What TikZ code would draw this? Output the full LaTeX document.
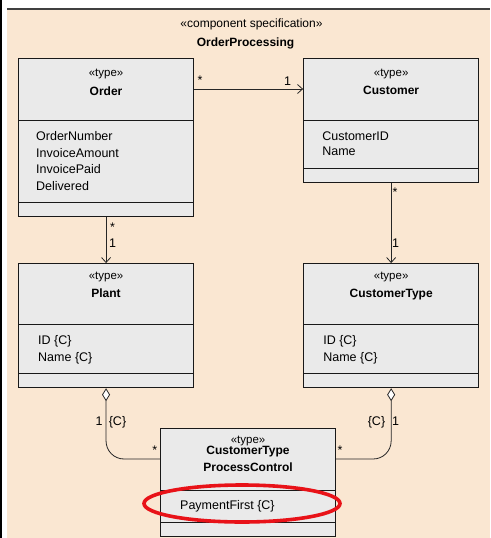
\documentclass[tikz,border=0pt]{standalone}
\usepackage{fontspec}
\setmainfont{Liberation Sans}
\usetikzlibrary{positioning,arrows.meta}
\definecolor{pagebeige}{RGB}{250,231,210}
\definecolor{boxgray}{RGB}{234,234,234}
\definecolor{markred}{RGB}{232,18,24}

\begin{document}
\begin{tikzpicture}[x=1pt,y=-1pt,
  classbox/.style={draw=black!90,fill=boxgray,line width=1.1pt,minimum width=175pt,inner sep=0pt,anchor=north west},
  split/.style={draw=black!90,line width=0.9pt},
  stereo/.style={font=\fontsize{11.5}{13}\selectfont,inner sep=0pt,anchor=base},
  cname/.style={font=\fontsize{12}{14}\selectfont\bfseries,inner sep=0pt,anchor=base},
  attr/.style={font=\fontsize{12.5}{14}\selectfont,inner sep=0pt,anchor=base west},
  mult/.style={font=\fontsize{12.5}{14}\selectfont,inner sep=0pt,anchor=base},
  assoc/.style={draw=black!85,line width=0.8pt},
  navig/.style={assoc,-{Straight Barb[length=5pt,width=9pt]}},
  aggr/.style={assoc,{Diamond[fill=white,length=13pt,width=8pt]}-,rounded corners=18pt}]
\useasboundingbox (0,0) rectangle (490,538);
%
\fill[white] (0,0) rectangle (490,538);
\fill[black] (0,0) rectangle (2.3,538);
\fill[pagebeige] (7,9) rectangle (490,538);
\draw[black!75,line width=1.3pt] (7,9) -- (490,9);
%
\node[stereo,font=\fontsize{12}{14}\selectfont] (specst) at (251.5,27.5) {«component specification»};
\node[cname] (specname) at (245.5,46) {OrderProcessing};
%
\node[classbox,minimum height=158pt] (order) at (18,58) {};
\node[classbox,minimum height=124pt,right=109pt of order.north east,anchor=north west] (customer) {};
\node[classbox,minimum height=124pt,below=46pt of order.south west,anchor=north west] (plant) {};
\node[classbox,minimum height=124pt,below=80pt of customer.south west,anchor=north west] (ctype) {};
\node[classbox,minimum height=108pt] (ctpc) at (160,428) {};
%
\draw[split] ([yshift=-62pt]order.north west) -- ([yshift=-62pt]order.north east);
\draw[split] ([yshift=15pt]order.south west) -- ([yshift=15pt]order.south east);
\draw[split] ([yshift=-62pt]customer.north west) -- ([yshift=-62pt]customer.north east);
\draw[split] ([yshift=15pt]customer.south west) -- ([yshift=15pt]customer.south east);
\draw[split] ([yshift=-61pt]plant.north west) -- ([yshift=-61pt]plant.north east);
\draw[split] ([yshift=15pt]plant.south west) -- ([yshift=15pt]plant.south east);
\draw[split] ([yshift=-61pt]ctype.north west) -- ([yshift=-61pt]ctype.north east);
\draw[split] ([yshift=15pt]ctype.south west) -- ([yshift=15pt]ctype.south east);
\draw[split] ([yshift=-62pt]ctpc.north west) -- ([yshift=-62pt]ctpc.north east);
\draw[split] ([yshift=15pt]ctpc.south west) -- ([yshift=15pt]ctpc.south east);
%
\node[stereo] (orderst) at ([yshift=-18.5pt]order.north) {«type»};
\node[cname] (ordername) at ([yshift=-37pt]order.north) {Order};
\node[attr] (ordera) at ([xshift=18pt,yshift=-82.5pt]order.north west) {OrderNumber};
\node[attr] (orderb) at ([xshift=18pt,yshift=-99pt]order.north west) {InvoiceAmount};
\node[attr] (orderc) at ([xshift=18pt,yshift=-115.5pt]order.north west) {InvoicePaid};
\node[attr] (orderd) at ([xshift=18pt,yshift=-132pt]order.north west) {Delivered};
%
\node[stereo] (customerst) at ([yshift=-18.5pt]customer.north) {«type»};
\node[cname] (customername) at ([yshift=-36.5pt]customer.north) {Customer};
\node[attr] (customera) at ([xshift=19pt,yshift=-82pt]customer.north west) {CustomerID};
\node[attr] (customerb) at ([xshift=19pt,yshift=-97.5pt]customer.north west) {Name};
%
\node[stereo] (plantst) at ([yshift=-16pt]plant.north) {«type»};
\node[cname] (plantname) at ([yshift=-34.5pt]plant.north) {Plant};
\node[attr] (planta) at ([xshift=20pt,yshift=-81pt]plant.north west) {ID \{C\}};
\node[attr] (plantb) at ([xshift=20pt,yshift=-98.5pt]plant.north west) {Name \{C\}};
%
\node[stereo] (ctypest) at ([yshift=-16pt]ctype.north) {«type»};
\node[cname] (ctypename) at ([yshift=-34.5pt]ctype.north) {CustomerType};
\node[attr] (ctypea) at ([xshift=20pt,yshift=-81pt]ctype.north west) {ID \{C\}};
\node[attr] (ctypeb) at ([xshift=20pt,yshift=-98.5pt]ctype.north west) {Name \{C\}};
%
\node[stereo] (ctpcst) at ([yshift=-15.3pt]ctpc.north) {«type»};
\node[cname] (ctpcname) at ([yshift=-26pt]ctpc.north) {CustomerType};
\node[cname] (ctpcname2) at ([yshift=-43pt]ctpc.north) {ProcessControl};
\node[attr] (ctpca) at ([xshift=20pt,yshift=-81pt]ctpc.north west) {PaymentFirst \{C\}};
%
\coordinate (ctpcL) at ([yshift=-31pt]ctpc.north west);
\coordinate (ctpcR) at ([yshift=-31pt]ctpc.north east);
\draw[navig] ([yshift=-31pt]order.north east) -- ([yshift=-31pt]customer.north west);
\draw[navig] (order.south) -- (plant.north);
\draw[navig] (customer.south) -- (ctype.north);
\draw[aggr] (plant.south) |- (ctpcL);
\draw[aggr] (ctype.south) |- (ctpcR);
%
\node[mult] (m1) at (200,84) {*};
\node[mult] (m2) at (287.5,85) {1};
\node[mult] (m3) at (112.5,231) {*};
\node[mult] (m4) at (112.5,247) {1};
\node[mult] (m5) at (395,196.5) {*};
\node[mult] (m6) at (395.5,247) {1};
\node[mult] (m7) at (99,425) {1};
\node[mult] (m8) at (117.5,425) {\{C\}};
\node[mult] (m9) at (376.5,425) {\{C\}};
\node[mult] (m10) at (395.5,425) {1};
\node[mult] (m11) at (154.7,454) {*};
\node[mult] (m12) at (340,454) {*};
%
\draw[markred,line width=3.6pt] (242,503.5) ellipse [x radius=98, y radius=18.5];
\end{tikzpicture}
\end{document}
